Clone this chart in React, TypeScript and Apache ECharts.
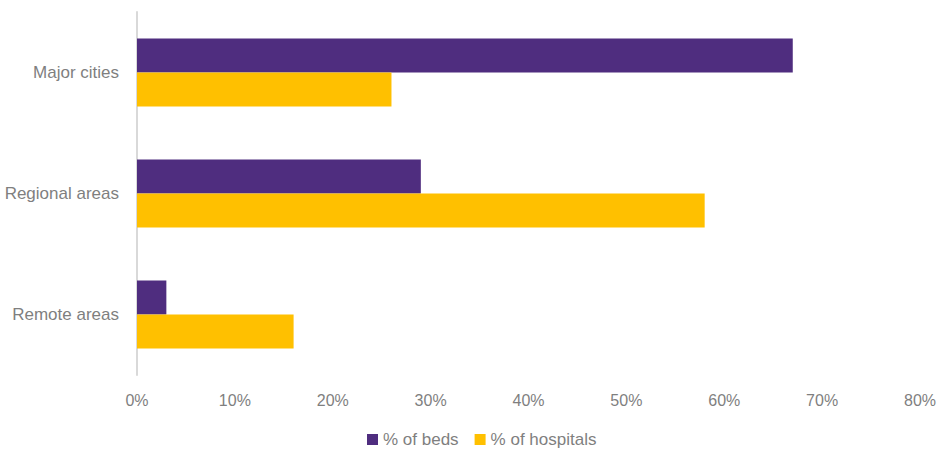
import React, { useEffect, useRef } from "react";
import * as echarts from "echarts";

const categories = ["Major cities", "Regional areas", "Remote areas"];
const bedsValues = [67, 29, 3];
const hospitalsValues = [26, 58, 16];
const seriesNames = ["% of beds", "% of hospitals"];

export default function App() {
  const ref = useRef<HTMLDivElement>(null);
  useEffect(() => {
    if (!ref.current) return;
    const chart = echarts.init(ref.current, null, { renderer: "svg" });
    const font = "'Liberation Sans', Arial, sans-serif";
    chart.setOption({
      animation: false,
      grid: { left: 137, right: 22, top: 12, bottom: 79, containLabel: false },
      legend: {
        data: seriesNames,
        bottom: 1,
        left: 362,
        itemWidth: 11,
        itemHeight: 11,
        itemGap: 16,
        icon: "rect",
        textStyle: { color: "#7f7f7f", fontSize: 17, fontFamily: font },
      },
      xAxis: {
        type: "value",
        min: 0,
        max: 80,
        interval: 10,
        axisLine: { show: false },
        axisTick: { show: false },
        splitLine: { show: false },
        axisLabel: {
          formatter: "{value}%",
          color: "#7f7f7f",
          fontSize: 16,
          fontFamily: font,
          margin: 17,
        },
      },
      yAxis: {
        type: "category",
        data: categories,
        inverse: true,
        axisLine: { show: true, lineStyle: { color: "#d9d9d9", width: 2 } },
        axisTick: { show: false },
        axisLabel: { color: "#7f7f7f", fontSize: 17, fontFamily: font, margin: 18 },
      },
      series: [
        {
          name: seriesNames[0],
          type: "bar",
          data: bedsValues,
          barWidth: 34,
          barGap: "0%",
          itemStyle: { color: "#4f2d7f" },
        },
        {
          name: seriesNames[1],
          type: "bar",
          data: hospitalsValues,
          barWidth: 34,
          barGap: "0%",
          itemStyle: { color: "#ffc000" },
        },
      ],
    });
    return () => chart.dispose();
  }, []);
  return <div ref={ref} style={{ width: 942, height: 454, position: "absolute", left: 0, top: 0 }} />;
}
